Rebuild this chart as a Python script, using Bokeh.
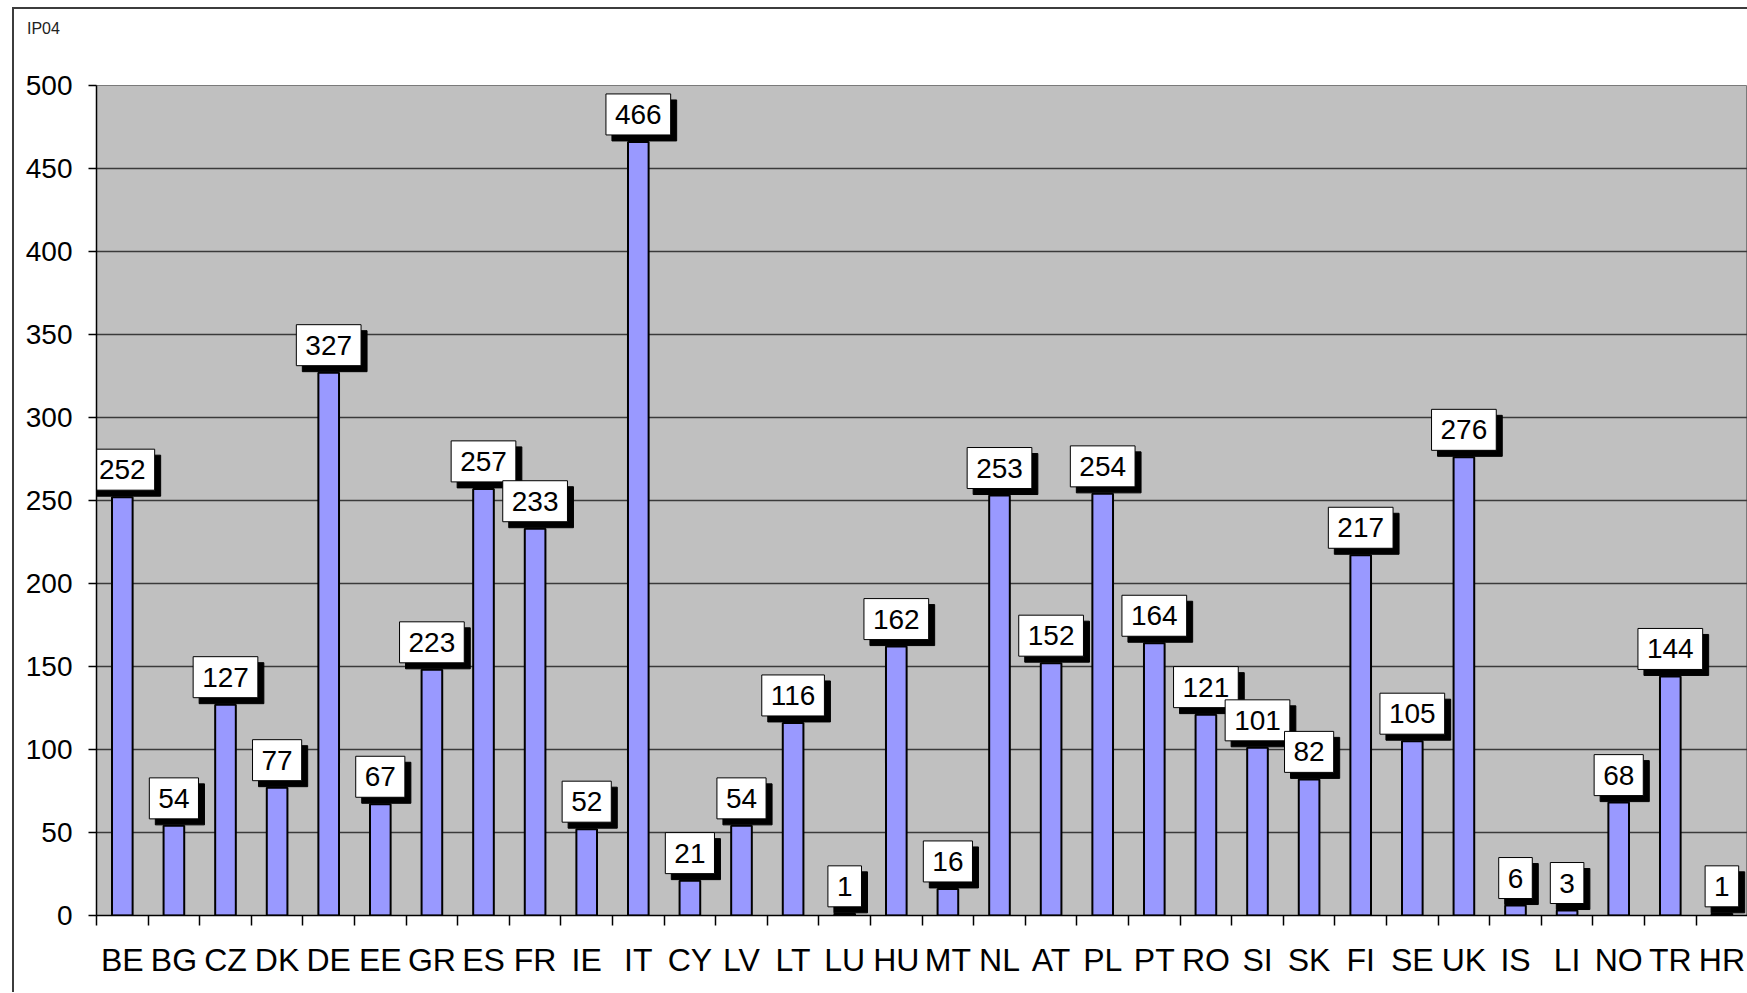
from bokeh.plotting import figure
from bokeh.models import ColumnDataSource, FixedTicker, Range1d, Div
from bokeh.layouts import column
from bokeh.core.properties import value
from bokeh.embed import file_html
from bokeh.resources import INLINE

countries = ["BE", "BG", "CZ", "DK", "DE", "EE", "GR", "ES", "FR", "IE", "IT",
             "CY", "LV", "LT", "LU", "HU", "MT", "NL", "AT", "PL", "PT", "RO",
             "SI", "SK", "FI", "SE", "UK", "IS", "LI", "NO", "TR", "HR"]
bar_values = [252, 54, 127, 77, 327, 67, 148, 257, 233, 52, 466,
              21, 54, 116, 1, 162, 16, 253, 152, 254, 164, 121,
              101, 82, 217, 105, 276, 6, 3, 68, 144, 1]
label_values = [252, 54, 127, 77, 327, 67, 223, 257, 233, 52, 466,
                21, 54, 116, 1, 162, 16, 253, 152, 254, 164, 121,
                101, 82, 217, 105, 276, 6, 3, 68, 144, 1]
y_ticks = [0, 50, 100, 150, 200, 250, 300, 350, 400, 450, 500]
chart_tag = "IP04"

FONT = "Liberation Sans"
W = 1733
DIV_PAD = 4
DIV_H = 30 - DIV_PAD
H = 984 - 37
LEFT, TOP, BOTTOM = 82, 40, 77
CAT_PX = 51.6

xs = [i + 1 for i in range(len(countries))]
src = ColumnDataSource(dict(x=xs, top=bar_values, txt=[str(v) for v in label_values]))

frame_w = W - LEFT
p = figure(width=W, height=H, output_backend="svg", toolbar_location=None,
           x_range=Range1d(0.5, 0.5 + frame_w / CAT_PX),
           y_range=Range1d(0, 500),
           min_border_left=LEFT, min_border_right=0,
           min_border_top=TOP, min_border_bottom=BOTTOM)

p.background_fill_color = "#C0C0C0"
p.border_fill_color = "white"
p.outline_line_color = "#7a7a7a"
p.outline_line_width = 1

p.vbar(x="x", top="top", width=0.40, source=src, fill_color="#9999FF",
       line_color="black", line_width=2)

label_kw = dict(x="x", y="top", text="txt", source=src, text_align="center",
                text_baseline="bottom", text_font=value(FONT), text_font_size="28px",
                padding=(9, 11))
p.text(text_color="black", background_fill_color="black",
       border_line_color="black", x_offset=6, y_offset=-7 + 6, **label_kw)
p.text(text_color="black", background_fill_color="white",
       border_line_color="black", border_line_width=1,
       x_offset=0, y_offset=-7, **label_kw)

# y axis
p.yaxis.ticker = FixedTicker(ticks=y_ticks)
p.yaxis.major_label_text_font = FONT
p.yaxis.major_label_text_font_size = "28px"
p.yaxis.major_label_text_color = "black"
p.yaxis.major_tick_out = 8
p.yaxis.major_tick_in = 0
p.yaxis.minor_tick_line_color = None
p.yaxis.major_label_standoff = 16
p.yaxis.axis_line_color = "black"
p.yaxis.axis_line_width = 1.5
p.yaxis.major_tick_line_color = "black"
p.yaxis.major_tick_line_width = 1.5

# x axis
p.xaxis.ticker = FixedTicker(ticks=xs, minor_ticks=[i + 0.5 for i in range(len(countries) + 1)])
p.xaxis.major_label_overrides = {x: c for x, c in zip(xs, countries)}
p.xaxis.major_label_text_font = FONT
p.xaxis.major_label_text_font_size = "32px"
p.xaxis.major_label_text_color = "black"
p.xaxis.major_tick_line_color = None
p.xaxis.major_tick_out = 10
p.xaxis.minor_tick_out = 10
p.xaxis.minor_tick_in = 0
p.xaxis.minor_tick_line_color = "black"
p.xaxis.minor_tick_line_width = 1.5
p.xaxis.major_label_standoff = 16
p.xaxis.axis_line_color = "black"
p.xaxis.axis_line_width = 1.5

p.xgrid.grid_line_color = None
p.ygrid.ticker = FixedTicker(ticks=y_ticks)
p.ygrid.grid_line_color = "#3a3a3a"
p.ygrid.grid_line_width = 1.5

tag = Div(text=chart_tag, width=W, height=DIV_H,
          styles={"font-family": FONT, "font-size": "16px", "color": "#222222",
                  "padding-left": "8px", "padding-top": f"{DIV_PAD}px",
                  "background-color": "white"})

layout = column(tag, p, spacing=0,
                styles={"border-left": "2px solid #3c3c3c", "border-top": "2px solid #3c3c3c",
                        "margin-left": "12px", "margin-top": "7px"})

open("out.html", "w").write(file_html(layout, INLINE))
